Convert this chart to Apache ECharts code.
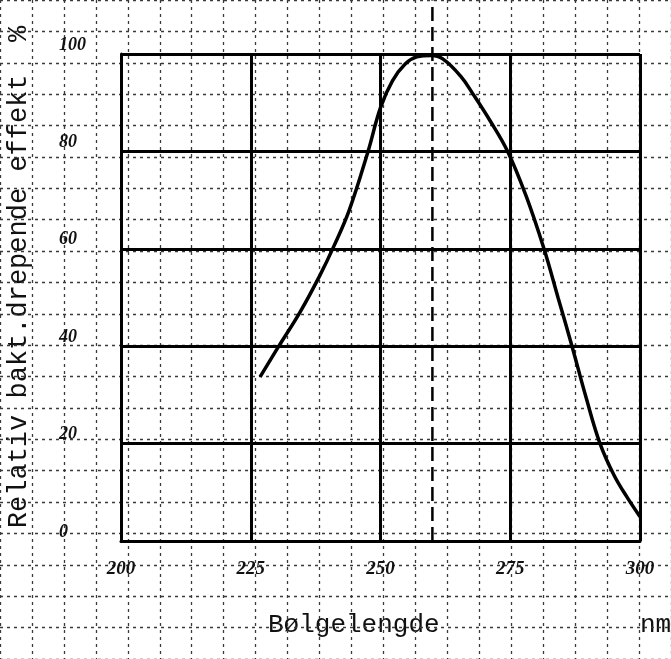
<!DOCTYPE html>
<html>
<head>
<meta charset="utf-8">
<script src="https://cdn.jsdelivr.net/npm/echarts@6/dist/echarts.min.js"></script>
<style>
html,body{margin:0;padding:0;background:#fff;}
#chart{width:671px;height:659px;}
</style>
</head>
<body>
<div id="chart"></div>
<script>
// Data
const wavelengths = [226.8, 230.4, 234.5, 238.3, 241, 244, 247.6, 250, 252.3, 254.8, 257, 259.8, 262, 265.4, 268, 271, 274.5, 278, 281.5, 284.2, 286.9, 289.6, 292.3, 295, 297.5, 300];
const effect      = [33.7, 40, 47, 54.5, 60.5, 68, 80, 89, 94.5, 98, 99.4, 99.7, 99, 95.5, 91.5, 86.5, 80, 71, 60, 50, 40, 29.5, 20, 13.5, 9, 5];
const xTicks = [200, 225, 250, 275, 300];
const yTicks = [0, 20, 40, 60, 80, 100];
const peakLine = 260;
const peakLineSpan = [0, 111];
const xTitle = 'Bølgelengde';
const xUnit = 'nm';
const yTitle = 'Relativ bakt.drepende effekt  %';

const chart = echarts.init(document.getElementById('chart'), null, {renderer: 'canvas'});

const gridLeft = 121, gridRight = 31, gridTop = 54, gridBottom = 118;
const plotW = 671 - gridLeft - gridRight;
const plotH = 659 - gridTop - gridBottom;
const pxPerX = plotW / (xTicks[xTicks.length - 1] - xTicks[0]);
const pxPerY = plotH / (yTicks[yTicks.length - 1] - yTicks[0]);
// graph paper background: one cell = 6.25 nm horizontally, 1/3 of 20 units vertically
const cellX = 6.25, cellY = 20 / 3;

const dotted = {color: '#3a3a3a', width: 1.3, type: [3, 4]};
const labelFont = {fontFamily: 'Liberation Serif', fontStyle: 'italic', fontWeight: 'bold', color: '#111'};

const option = {
  backgroundColor: '#fff',
  animation: false,
  grid: [
    {left: gridLeft, right: gridRight, top: gridTop, bottom: gridBottom, containLabel: false},
    {left: gridLeft - 4 * cellX * pxPerX, right: gridRight - 1 * cellX * pxPerX,
     top: gridTop - 2 * cellY * pxPerY, bottom: gridBottom - 4 * cellY * pxPerY, containLabel: false}
  ],
  xAxis: [
    {
      gridIndex: 0, type: 'value', min: 200, max: 300, interval: 25, z: 5,
      axisLine: {show: true, lineStyle: {color: '#000', width: 3}},
      axisTick: {show: false},
      axisLabel: Object.assign({show: true, fontSize: 19, margin: 19,
        formatter: v => String(v)}, labelFont),
      splitLine: {show: true, lineStyle: {color: '#000', width: 3}}
    },
    {
      gridIndex: 1, type: 'value', min: -4, max: 17, interval: 1, z: 1,
      axisLine: {show: false}, axisTick: {show: false}, axisLabel: {show: false},
      splitLine: {show: true, lineStyle: dotted}
    }
  ],
  yAxis: [
    {
      gridIndex: 0, type: 'value', min: 0, max: 100, interval: 20, z: 5,
      axisLine: {show: true, lineStyle: {color: '#000', width: 3}},
      axisTick: {show: false},
      axisLabel: Object.assign({show: true, fontSize: 18, margin: 62, align: 'left',
        verticalAlign: 'bottom', lineHeight: 18}, labelFont),
      splitLine: {show: true, lineStyle: {color: '#000', width: 3}}
    },
    {
      gridIndex: 1, type: 'value', min: -4, max: 17, interval: 1, z: 1,
      axisLine: {show: false}, axisTick: {show: false}, axisLabel: {show: false},
      splitLine: {show: true, lineStyle: dotted}
    }
  ],
  series: [
    {
      type: 'line',
      xAxisIndex: 0, yAxisIndex: 0,
      data: wavelengths.map((w, i) => [w, effect[i]]),
      smooth: 0.4,
      showSymbol: false,
      clip: false,
      z: 10,
      lineStyle: {color: '#000', width: 3.5}
    },
    {
      type: 'line',
      xAxisIndex: 0, yAxisIndex: 0,
      data: peakLineSpan.map(v => [peakLine, v]),
      showSymbol: false,
      clip: false,
      silent: true,
      z: 8,
      lineStyle: {color: '#000', width: 2.5, type: [14, 6]}
    }
  ],
  graphic: [
    {
      type: 'text', left: 268, top: 612,
      style: {text: xTitle, font: '26px "Liberation Mono"', fill: '#111'}
    },
    {
      type: 'text', left: 640, top: 612,
      style: {text: xUnit, font: '26px "Liberation Mono"', fill: '#111'}
    },
    {
      type: 'text', x: 19, y: 277, rotation: Math.PI / 2,
      style: {text: yTitle, font: '27px "Liberation Mono"', fill: '#111',
        align: 'center', verticalAlign: 'middle'}
    }
  ]
};
chart.setOption(option);
</script>
</body>
</html>
